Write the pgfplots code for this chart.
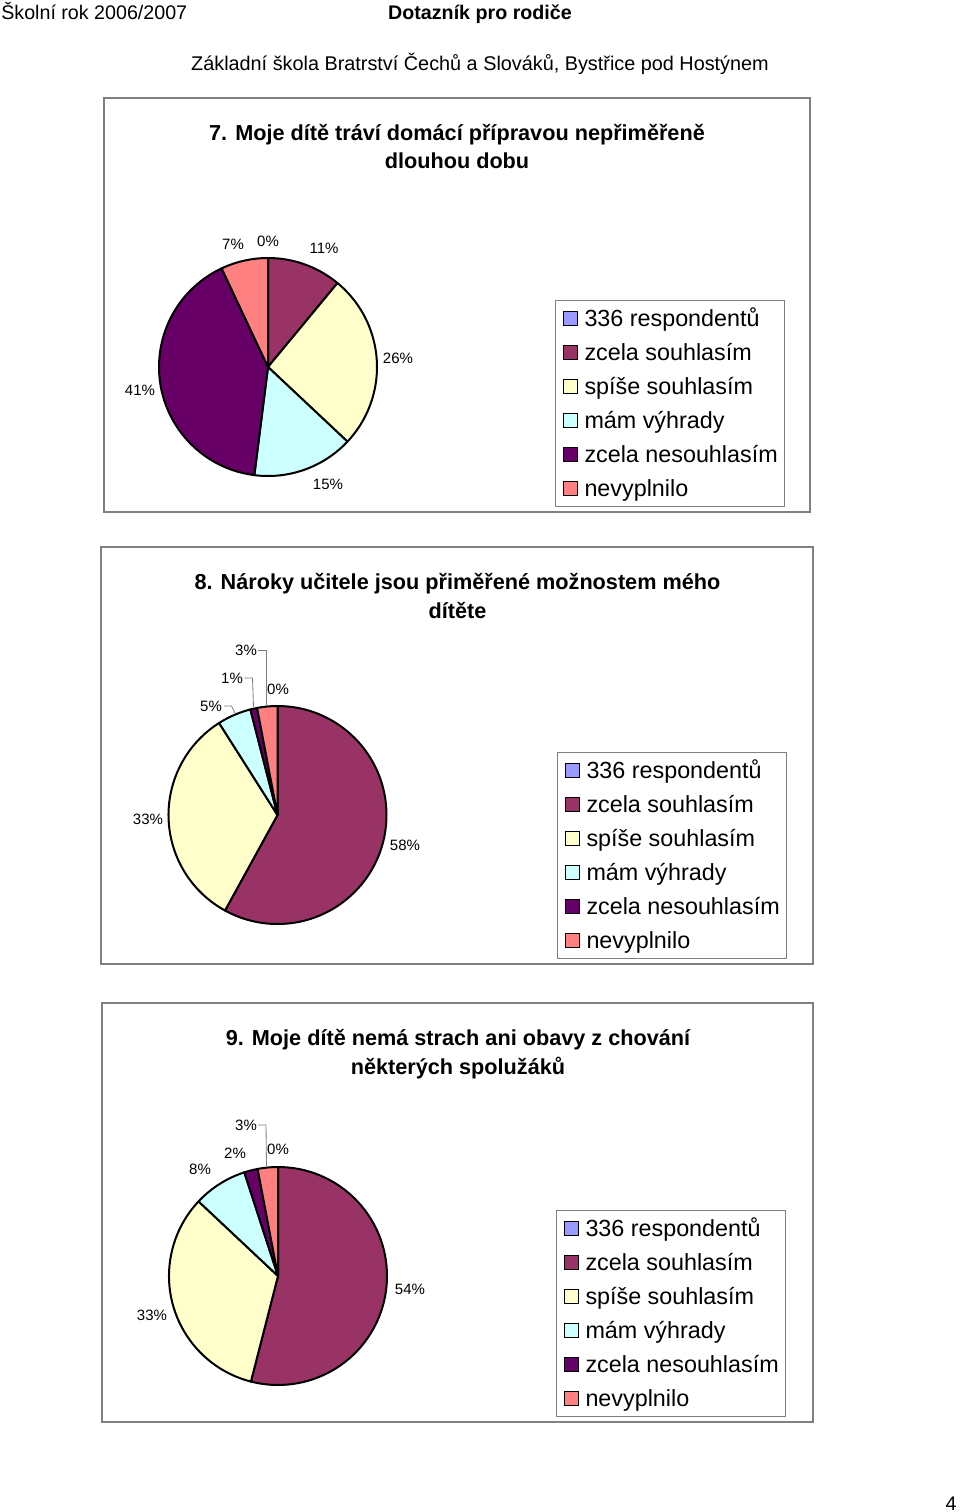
\documentclass[border=0pt]{standalone}
\usepackage{fontspec}
\setmainfont{Liberation Sans}
\usepackage{pgfplots}
\usepackage{pgfplotstable}
\pgfplotsset{compat=1.18}

% Excel 2003 default pie palette
\definecolor{pie0}{HTML}{9999FF}
\definecolor{pie1}{HTML}{993366}
\definecolor{pie2}{HTML}{FFFFCC}
\definecolor{pie3}{HTML}{CCFFFF}
\definecolor{pie4}{HTML}{660066}
\definecolor{pie5}{HTML}{FF8080}
\definecolor{framegray}{HTML}{808080}

% shares in percent, clockwise from 12 o'clock
\pgfplotstableread{
pct
0
11
26
15
41
7
}\pieA
\pgfplotstableread{
pct
0
58
33
5
1
3
}\pieB
\pgfplotstableread{
pct
0
54
33
8
2
3
}\pieC

\def\R{65.4pt}

\pgfplotsset{
  piechart/.style={
    hide axis, clip=false,
    x=\R, y=\R, xmin=-1, xmax=1, ymin=-1, ymax=1,
    anchor=center,
    legend image code/.code={\draw[##1,draw=black,line width=0.6pt] (0pt,-4.2pt) rectangle (8.4pt,4.2pt);},
    legend cell align=left,
    legend style={anchor=north west, draw=framegray, line width=0.6pt,
      inner xsep=4.2pt, inner ysep=3.8pt,
      font=\fontsize{14}{16}\selectfont, row sep=6.4pt,
      nodes={inner sep=0pt, text height=11.5pt, text depth=2.5pt},
      /tikz/every odd column/.append style={column sep=4.2pt}},
  },
}

\newcommand\drawpie[1]{%
  \pgfplotsextra{%
    \gdef\acc{90}%
    \pgfplotstableforeachcolumnelement{pct}\of#1\as\v{%
      \pgfmathsetmacro\nxt{\acc-3.6*\v}%
      \edef\slicecol{pie\pgfplotstablerow}%
      \path[fill=\slicecol, draw=black, line width=1.2pt, line join=round]
        (axis cs:0,0) -- ++(\acc:\R) arc[start angle=\acc, end angle=\nxt, radius=\R] -- cycle;%
      \global\let\acc\nxt
    }%
  }%
}
\newcommand\pielegend{%
  \addlegendimage{fill=pie0}\addlegendimage{fill=pie1}\addlegendimage{fill=pie2}%
  \addlegendimage{fill=pie3}\addlegendimage{fill=pie4}\addlegendimage{fill=pie5}%
  \legend{336 respondentů, zcela souhlasím, spíše souhlasím, mám výhrady, zcela nesouhlasím, nevyplnilo}%
}

\newcommand\hdr{\fontsize{11.8}{14}\selectfont}
\newcommand\ttl{\fontsize{13}{15}\selectfont\bfseries}
\newcommand\lbl{\fontsize{9}{11}\selectfont}

\begin{document}
\begin{tikzpicture}[x=0.6pt,y=-0.6pt]
\useasboundingbox[fill=white] (0,0) rectangle (960,1512);

% page header
\node[anchor=base west,inner sep=0pt,font=\hdr] at (1,20) {Školní rok 2006/2007};
\node[anchor=base,inner sep=0pt,font=\hdr\bfseries] at (480,20) {Dotazník pro rodiče};
\node[anchor=base,inner sep=0pt,font=\fontsize{11.9}{14}\selectfont] at (480,70) {Základní škola Bratrství Čechů a Slováků, Bystřice pod Hostýnem};
\node[anchor=base,inner sep=0pt,font=\hdr] at (951,1510) {4};

% chart frames
\draw[framegray,line width=0.9pt] (104,98) rectangle (810,512);
\draw[framegray,line width=0.9pt] (101,547) rectangle (813,964);
\draw[framegray,line width=0.9pt] (102,1003) rectangle (813,1422);

\coordinate (p7) at (268,367);
\coordinate (p8) at (277.5,815);
\coordinate (p9) at (278,1276);

% ---- chart 7
\node[anchor=base,inner sep=0pt,font=\ttl] at (457,140.5) {7. Moje dítě tráví domácí přípravou nepřiměřeně};
\node[anchor=base,inner sep=0pt,font=\ttl] at (457,168.5) {dlouhou dobu};
\begin{axis}[piechart, at={(p7)}, legend style={at={(1.8165,0.8073)}}]
\drawpie{\pieA}
\pielegend
\end{axis}
\begin{scope}[every node/.style={anchor=base,inner sep=0pt,font=\lbl}]
\node at (233,249) {7\%};
\node at (268,246) {0\%};
\node at (324,253) {11\%};
\node at (398,363) {26\%};
\node at (140,395) {41\%};
\node at (328,489) {15\%};
\end{scope}

% ---- chart 8
\node[anchor=base,inner sep=0pt,font=\ttl] at (457.5,589.5) {8. Nároky učitele jsou přiměřené možnostem mého};
\node[anchor=base,inner sep=0pt,font=\ttl] at (457.5,618.5) {dítěte};
\begin{axis}[piechart, at={(p8)}, legend style={at={(1.7821,0.7890)}}]
\drawpie{\pieB}
\pielegend
\end{axis}
\draw[framegray,line width=0.5pt] (258,650) -- (266.5,650) -- (266.5,706);
\draw[framegray,line width=0.5pt] (244,678) -- (252.5,678) -- (253.5,707);
\draw[framegray,line width=0.5pt] (224,706) -- (231.5,706) -- (235,713);
\begin{scope}[every node/.style={anchor=base,inner sep=0pt,font=\lbl}]
\node at (246,655) {3\%};
\node at (232,683) {1\%};
\node at (211,711) {5\%};
\node at (278,694) {0\%};
\node at (148,824) {33\%};
\node at (405,850) {58\%};
\end{scope}

% ---- chart 9
\node[anchor=base,inner sep=0pt,font=\ttl] at (458,1045.5) {9. Moje dítě nemá strach ani obavy z chování};
\node[anchor=base,inner sep=0pt,font=\ttl] at (458,1074.5) {některých spolužáků};
\begin{axis}[piechart, at={(p9)}, legend style={at={(1.7752,0.8028)}}]
\drawpie{\pieC}
\pielegend
\end{axis}
\draw[framegray,line width=0.5pt] (258,1125) -- (266,1125) -- (266.5,1166);
\begin{scope}[every node/.style={anchor=base,inner sep=0pt,font=\lbl}]
\node at (246,1130) {3\%};
\node at (235,1158) {2\%};
\node at (200,1174) {8\%};
\node at (278,1154) {0\%};
\node at (152,1320) {33\%};
\node at (410,1294) {54\%};
\end{scope}
\end{tikzpicture}
\end{document}
